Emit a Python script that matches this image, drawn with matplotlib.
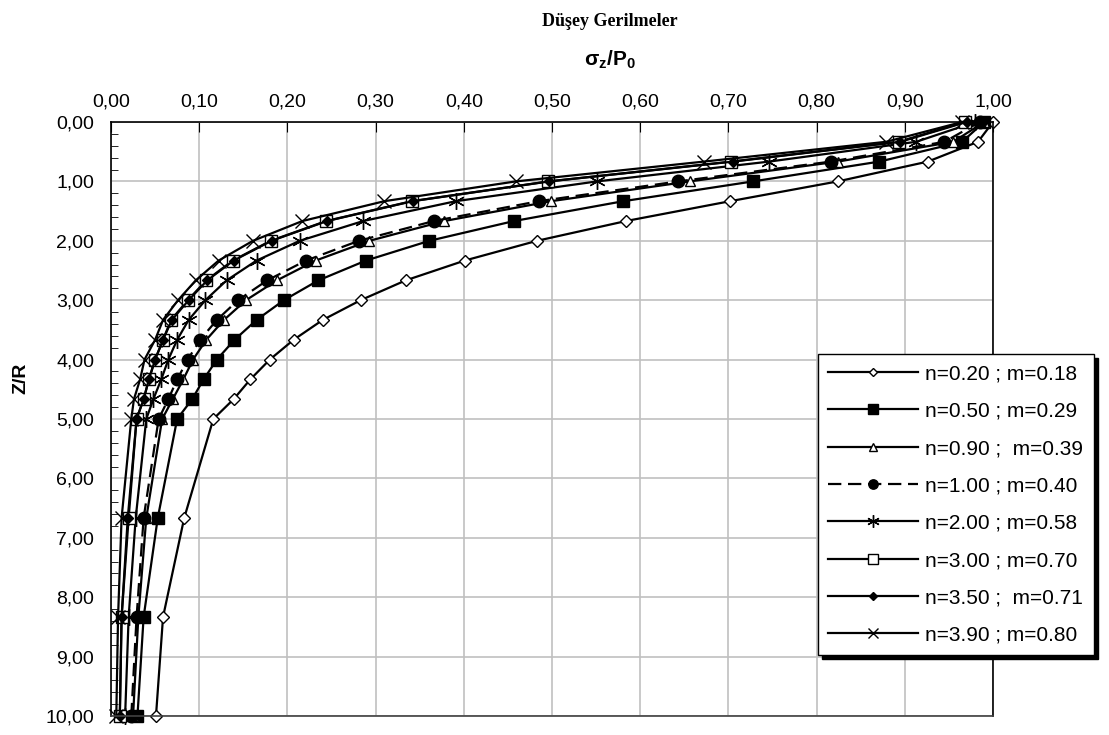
import numpy as np
import matplotlib
matplotlib.use("Agg")
import matplotlib.pyplot as plt
from matplotlib.ticker import MultipleLocator, FuncFormatter

# depth ratio Z/R
depth = [0.0, 0.333, 0.667, 1.0, 1.333, 1.667, 2.0, 2.333, 2.667, 3.0,
         3.333, 3.667, 4.0, 4.333, 4.667, 5.0, 6.667, 8.333, 10.0]

# sigma_z / P0
s_n020 = [1.000, 0.983, 0.926, 0.824, 0.702, 0.584, 0.483, 0.401, 0.334, 0.283,
          0.240, 0.207, 0.180, 0.158, 0.139, 0.116, 0.083, 0.059, 0.051]
s_n050 = [0.990, 0.965, 0.871, 0.728, 0.581, 0.457, 0.361, 0.289, 0.235, 0.196,
          0.165, 0.140, 0.120, 0.105, 0.092, 0.075, 0.053, 0.037, 0.030]
s_n090 = [0.990, 0.955, 0.824, 0.656, 0.499, 0.378, 0.293, 0.232, 0.188, 0.153,
          0.128, 0.108, 0.093, 0.082, 0.070, 0.058, 0.040, 0.031, 0.025]
s_n100 = [0.985, 0.945, 0.816, 0.643, 0.485, 0.366, 0.281, 0.221, 0.177, 0.144,
          0.120, 0.101, 0.087, 0.075, 0.065, 0.054, 0.037, 0.029, 0.023]
s_n200 = [0.980, 0.913, 0.746, 0.551, 0.391, 0.286, 0.214, 0.165, 0.131, 0.107,
          0.088, 0.075, 0.065, 0.057, 0.048, 0.040, 0.028, 0.020, 0.016]
s_n300 = [0.968, 0.893, 0.703, 0.496, 0.341, 0.244, 0.181, 0.138, 0.108, 0.087,
          0.068, 0.059, 0.050, 0.043, 0.037, 0.029, 0.020, 0.012, 0.010]
s_n350 = [0.970, 0.895, 0.705, 0.497, 0.342, 0.245, 0.182, 0.139, 0.109, 0.088,
          0.069, 0.059, 0.050, 0.043, 0.037, 0.029, 0.019, 0.012, 0.010]
s_n390 = [0.965, 0.879, 0.672, 0.459, 0.310, 0.217, 0.161, 0.122, 0.096, 0.076,
          0.059, 0.050, 0.038, 0.033, 0.026, 0.023, 0.012, 0.008, 0.006]

labels = ["n=0.20 ; m=0.18", "n=0.50 ; m=0.29", "n=0.90 ;  m=0.39",
          "n=1.00 ; m=0.40", "n=2.00 ; m=0.58", "n=3.00 ; m=0.70",
          "n=3.50 ;  m=0.71", "n=3.90 ; m=0.80"]
series = [s_n020, s_n050, s_n090, s_n100, s_n200, s_n300, s_n350, s_n390]

styles = [
    dict(marker="D", ms=6, mfc="white", mec="black", ls="-"),
    dict(marker="s", ms=9, mfc="black", mec="black", ls="-"),
    dict(marker="^", ms=7, mfc="white", mec="black", ls="-"),
    dict(marker="o", ms=9, mfc="black", mec="black", ls=(0, (6, 3))),
    dict(marker=(6, 2, 0), ms=12, mfc="black", mec="black", ls="-", mew=1),
    dict(marker="s", ms=9, mfc="white", mec="black", ls="-"),
    dict(marker="D", ms=5, mfc="black", mec="black", ls="-"),
    dict(marker="x", ms=10, mfc="black", mec="black", ls="-", mew=1),
]

plt.rcParams["font.family"] = ["Liberation Sans", "DejaVu Sans"]
plt.rcParams["mathtext.fontset"] = "custom"
plt.rcParams["mathtext.rm"] = "Liberation Sans"
plt.rcParams["mathtext.bf"] = "Liberation Sans:bold"
plt.rcParams["mathtext.it"] = "Liberation Sans:italic"

fig = plt.figure(figsize=(11.09, 7.35), dpi=100)
ax = fig.add_axes([111 / 1109, 1 - 716 / 735, (993 - 111) / 1109, (716 - 122) / 735])

for vals, lab, st in zip(series, labels, styles):
    ax.plot(vals, depth, color="black", lw=1.6, label=lab, clip_on=False, **st)

ax.set_xlim(0, 1.0)
ax.set_ylim(10, 0)
ax.xaxis.set_major_locator(MultipleLocator(0.1))
ax.yaxis.set_major_locator(MultipleLocator(1.0))
ax.yaxis.set_minor_locator(MultipleLocator(0.2))
fmt = FuncFormatter(lambda v, p: f"{v:.2f}".replace(".", ","))
ax.xaxis.set_major_formatter(fmt)
ax.yaxis.set_major_formatter(fmt)
ax.xaxis.tick_top()
ax.tick_params(axis="x", which="both", direction="in", length=7, labelsize=14, pad=8)
ax.tick_params(axis="y", which="major", direction="in", length=0, labelsize=14, pad=12)
ax.tick_params(axis="y", which="minor", direction="in", length=5)
ax.grid(True, which="major", color="#c0c0c0", lw=1.2)
ax.set_axisbelow(True)
for sp in ax.spines.values():
    sp.set_color("black")
    sp.set_linewidth(1.2)
ax.spines["bottom"].set_color("#404040")

fig.text(21 / 1109, 1 - 378 / 735, "Z/R", rotation=90, ha="center", va="center",
         fontsize=14, fontweight="bold")
fig.text(610 / 1109, 1 - 60 / 735, r"$\mathbf{\sigma_z/P_0}$", ha="center", va="center", fontsize=15)
fig.text(610 / 1109, 1 - 22 / 735, "Düşey Gerilmeler", ha="center", va="center",
         fontsize=13, fontweight="bold", family=["Liberation Serif", "DejaVu Serif"])

leg = ax.legend(loc="upper left", bbox_to_anchor=(818 / 1109, 1 - 354 / 735),
                bbox_transform=fig.transFigure, fontsize=15, frameon=True, fancybox=False,
                edgecolor="black", framealpha=1, handlelength=4.3, handletextpad=0.35,
                labelspacing=0.88, borderpad=0.5, borderaxespad=0, markerscale=0.75,
                shadow={"color": "black", "alpha": 1, "ox": 3, "oy": -3})
leg.get_frame().set_linewidth(1.0)

fig.savefig("out.png", dpi=100)
